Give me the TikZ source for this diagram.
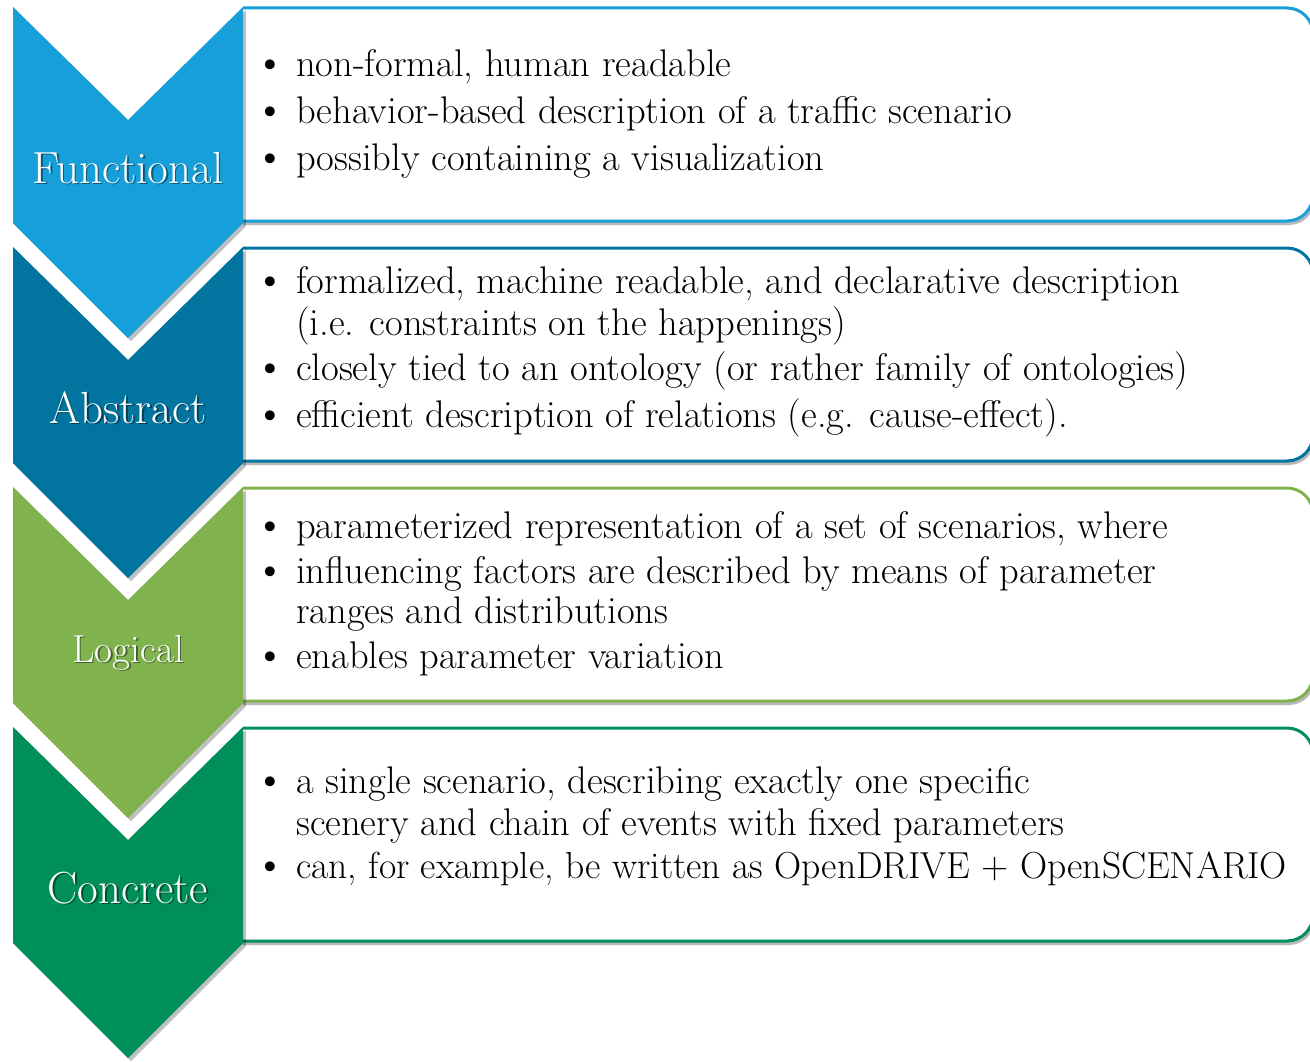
\documentclass[tikz,border=0pt]{standalone}
\usetikzlibrary{shadows}
\definecolor{cF}{RGB}{23,159,218}
\definecolor{cA}{RGB}{1,117,160}
\definecolor{cL}{RGB}{128,178,78}
\definecolor{cC}{RGB}{0,142,90}
\tikzset{
  body/.style={anchor=base west, inner sep=0pt, font=\fontsize{38.5}{44}\selectfont},
  bul/.style={anchor=base, inner sep=0pt, font=\fontsize{44}{48}\selectfont},
  lab/.style={anchor=base, inner sep=0pt, text=white, font=\fontsize{45}{52}\selectfont},
  labsh/.style={lab, text=black, opacity=0.45},
  boxshadow/.style={drop shadow={shadow xshift=2pt, shadow yshift=-4pt, opacity=0.28, fill=black}},
  chevshadow/.style={drop shadow={shadow xshift=3pt, shadow yshift=-3pt, opacity=0.25, fill=black}}
}
\begin{document}
\begin{tikzpicture}[x=1pt,y=-1pt]
\useasboundingbox (0,0) rectangle (1310,1062);
\clip (0,0) rectangle (1310,1062);
% boxes
\foreach \t/\c in {7/cF,247/cA,487/cL,727/cC}{
  \begin{scope}
    \clip (243,0) rectangle (1330,1062);
    \draw[\c, line width=3pt, fill=white, rounded corners=26pt, boxshadow] (200,\t+1) rectangle (1313,\t+214);
  \end{scope}
}
% chevrons
\foreach \t/\c in {7/cF,247/cA,487/cL,727/cC}{
  \fill[\c, chevshadow] (13,\t) -- (128,\t+113) -- (243,\t) -- (243,\t+216) -- (128,\t+331) -- (13,\t+216) -- cycle;
}
% labels
\node[labsh] (sF) at (129.5,184.5) {Functional};
\node[lab] (lF) at (128,183) {Functional};
\node[labsh] (sA) at (129.5,424.5) {Abstract};
\node[lab] (lA) at (128,423) {Abstract};
\node[labsh, font=\fontsize{39}{46}\selectfont] (sL) at (129.5,663.5) {Logical};
\node[lab, font=\fontsize{39}{46}\selectfont] (lL) at (128,662) {Logical};
\node[labsh] (sC) at (129.5,904.5) {Concrete};
\node[lab] (lC) at (128,903) {Concrete};
% box 1
\node[bul] (b11) at (270,77) {\textbullet};
\node[body] (t11) at (296,77) {non-formal, human readable};
\node[bul] (b12) at (270,124) {\textbullet};
\node[body] (t12) at (296,124) {behavior-based description of a traffic scenario};
\node[bul] (b13) at (270,171) {\textbullet};
\node[body] (t13) at (296,171) {possibly containing a visualization};
% box 2
\node[bul] (b21) at (270,293) {\textbullet};
\node[body] (t21) at (296,293) {formalized, machine readable, and declarative description};
\node[body] (t22) at (296,335) {(i.e. constraints on the happenings)};
\node[bul] (b23) at (270,380) {\textbullet};
\node[body] (t23) at (296,380) {closely tied to an ontology (or rather family of ontologies)};
\node[bul] (b24) at (270,427) {\textbullet};
\node[body] (t24) at (296,427) {efficient description of relations (e.g. cause-effect).};
% box 3
\node[bul] (b31) at (270,538) {\textbullet};
\node[body] (t31) at (296,538) {parameterized representation of a set of scenarios, where};
\node[bul] (b32) at (270,583) {\textbullet};
\node[body] (t32) at (296,583) {influencing factors are described by means of parameter};
\node[body] (t33) at (296,623) {ranges and distributions};
\node[bul] (b34) at (270,668) {\textbullet};
\node[body] (t34) at (296,668) {enables parameter variation};
% box 4
\node[bul] (b41) at (270,793) {\textbullet};
\node[body] (t41) at (296,793) {a single scenario, describing exactly one specific};
\node[body] (t42) at (296,835) {scenery and chain of events with fixed parameters};
\node[bul] (b43) at (270,878) {\textbullet};
\node[body, font=\fontsize{37.6}{44}\selectfont] (t43) at (296,878) {can, for example, be written as OpenDRIVE + OpenSCENARIO};
\end{tikzpicture}
\end{document}
